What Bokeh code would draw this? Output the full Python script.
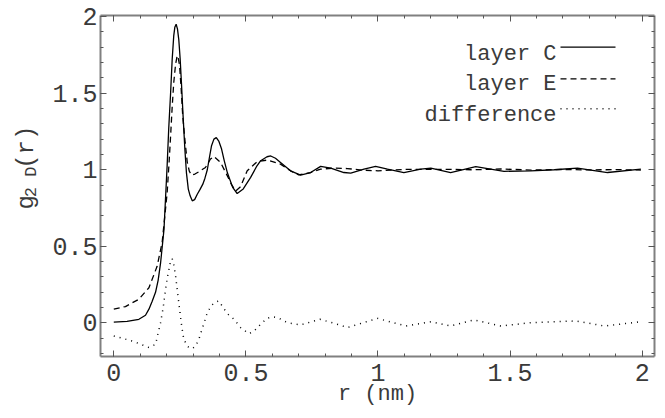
import math
from bokeh.plotting import figure
from bokeh.layouts import row
from bokeh.models import (Range1d, LinearAxis, FixedTicker, Label, Arrow,
                          CustomLabelingPolicy, ColumnDataSource)
from bokeh.core.properties import value
from bokeh.embed import file_html
from bokeh.resources import INLINE

# ---- data ----
r_c = [0, 0.05, 0.095, 0.12, 0.133, 0.145, 0.158, 0.168, 0.177, 0.19, 0.202, 0.208,
       0.215, 0.221, 0.227, 0.231, 0.236, 0.241, 0.246, 0.251, 0.256, 0.262, 0.269,
       0.275, 0.282, 0.289, 0.297, 0.306, 0.316, 0.326, 0.337, 0.345, 0.354, 0.362,
       0.37, 0.379, 0.388, 0.398, 0.408, 0.418, 0.43, 0.45, 0.467, 0.49, 0.518,
       0.54, 0.556, 0.58, 0.594, 0.612, 0.631, 0.669, 0.707, 0.745, 0.783, 0.821,
       0.871, 0.897, 0.947, 0.991, 1.036, 1.098, 1.162, 1.2, 1.275, 1.37, 1.477,
       1.578, 1.667, 1.755, 1.869, 1.995]
g_c = [0.005, 0.01, 0.024, 0.05, 0.09, 0.14, 0.2, 0.28, 0.39, 0.61, 1.03, 1.27,
       1.5, 1.72, 1.876, 1.93, 1.95, 1.92, 1.85, 1.73, 1.57, 1.36, 1.135,
       0.98, 0.874, 0.83, 0.797, 0.805, 0.84, 0.87, 0.906, 0.945, 1.0, 1.08,
       1.157, 1.2, 1.21, 1.185, 1.135, 1.06, 0.98, 0.885, 0.845, 0.875, 0.95,
       1.02, 1.059, 1.085, 1.09, 1.075, 1.048, 0.993, 0.965, 0.982, 1.022, 1.011,
       0.982, 0.978, 1.004, 1.022, 1.004, 0.982, 1.004, 1.011, 0.982, 1.02, 0.99,
       0.993, 1.0, 1.011, 0.982, 1.004]

r_e = [0, 0.044, 0.095, 0.133, 0.164, 0.183, 0.202, 0.209, 0.215, 0.221, 0.227,
       0.234, 0.24, 0.244, 0.249, 0.255, 0.261, 0.27, 0.278, 0.286, 0.294, 0.307,
       0.322, 0.347, 0.366, 0.379, 0.404, 0.43, 0.445, 0.462, 0.48, 0.505, 0.543,
       0.581, 0.631, 0.669, 0.7, 0.745, 0.783, 0.833, 0.884, 0.94, 1.0, 1.05,
       1.105, 1.2, 1.275, 1.364, 1.465, 1.58, 1.7, 1.8, 1.9, 1.995]
g_e = [0.09, 0.107, 0.155, 0.23, 0.37, 0.525, 0.85, 1.04, 1.22, 1.41, 1.57,
       1.69, 1.745, 1.73, 1.68, 1.53, 1.35, 1.18, 1.05, 0.99, 0.965, 0.972,
       0.987, 1.015, 1.07, 1.087, 1.048, 0.96, 0.905, 0.862, 0.89, 0.993, 1.054,
       1.063, 1.037, 0.993, 0.967, 0.982, 1.004, 1.011, 1.008, 0.998, 0.993, 0.998,
       1.002, 1.003, 1.002, 1.0, 1.005, 0.998, 1.002, 0.999, 1.001, 0.998]

r_d = [0, 0.07, 0.133, 0.158, 0.177, 0.187, 0.196, 0.203, 0.21, 0.215, 0.221,
       0.227, 0.234, 0.242, 0.249, 0.257, 0.265, 0.28, 0.297, 0.31, 0.322, 0.338,
       0.354, 0.37, 0.385, 0.398, 0.41, 0.43, 0.455, 0.48, 0.511, 0.53, 0.555,
       0.58, 0.6, 0.62, 0.657, 0.707, 0.78, 0.83, 0.884, 0.998, 1.105, 1.2, 1.275,
       1.364, 1.465, 1.58, 1.75, 1.857, 1.995]
g_d = [-0.085, -0.118, -0.16, -0.14, 0.002, 0.1, 0.22, 0.3, 0.36, 0.405, 0.42,
       0.38, 0.307, 0.19, 0.09, -0.02, -0.107, -0.155, -0.168, -0.15, -0.107, -0.02,
       0.067, 0.115, 0.137, 0.144, 0.111, 0.06, 0.024, -0.03, -0.07, -0.055, -0.01,
       0.03, 0.04, 0.035, 0.002, -0.013, 0.024, 0.0, -0.03, 0.03, -0.02, 0.008, -0.02,
       0.02, -0.02, 0.002, 0.013, -0.02, 0.008]

x_tick_values = [0, 0.5, 1, 1.5, 2]
x_tick_labels = ["0", "0.5", "1", "1.5", "2"]
y_tick_values = [0, 0.5, 1, 1.5, 2]
y_tick_labels = ["0", "0.5", "1", "1.5", "2"]
x_minor = [round(0.1 * i, 2) for i in range(0, 21)]
y_minor = [round(-0.2 + 0.1 * i, 2) for i in range(0, 23)]

legend_names = ["layer C", "layer E", "difference"]
y_label_parts = ["g", "2 D", "(r)"]

FONT = "Liberation Mono"
TXT = "#3a3a3a"
FRAME = "#808080"
TICK = "#555555"

# ---- narrow strip holding the rotated y-axis title ----
LW = 40
lf = figure(width=LW, height=418, output_backend="svg", toolbar_location=None,
            x_range=Range1d(0, LW), y_range=Range1d(418, 0),
            x_axis_location=None, y_axis_location=None,
            min_border=0, min_border_left=0, min_border_right=0,
            min_border_top=0, min_border_bottom=0)
lf.grid.visible = False
lf.outline_line_color = None
ylab_src = ColumnDataSource(dict(x=[25.5, 30.5, 25.5], y=[229, 204, 161.5],
                                 text=y_label_parts,
                                 fs=["24px", "17px", "24px"]))
lf.text(x="x", y="y", text="text", source=ylab_src,
        angle=math.pi / 2, text_font=value(FONT),
        text_font_size="fs", text_color=TXT,
        text_baseline="middle", text_align="center")

# ---- main chart ----
p = figure(width=665 - LW, height=418, output_backend="svg", toolbar_location=None,
           x_range=Range1d(-0.0503, 2.0466), y_range=Range1d(-0.219, 2.007),
           min_border_left=100 - LW, min_border_right=11, min_border_top=15,
           min_border_bottom=62)
p.grid.visible = False
p.outline_line_color = None

no_labels = CustomLabelingPolicy(code="return []")


def style_axis(ax, ticks, minor, labels, show_labels):
    ax.ticker = FixedTicker(ticks=ticks, minor_ticks=minor)
    ax.major_tick_in = 6
    ax.major_tick_out = 0
    ax.minor_tick_in = 3
    ax.minor_tick_out = 0
    ax.major_tick_line_color = TICK
    ax.minor_tick_line_color = TICK
    ax.axis_line_color = FRAME
    ax.axis_line_width = 2
    ax.major_label_overrides = dict(zip(ticks, labels))
    ax.major_label_text_font = FONT
    ax.major_label_text_color = TXT
    if show_labels:
        ax.major_label_text_font_size = "25px"
    else:
        ax.major_label_text_font_size = "1px"
        ax.major_label_policy = no_labels
        ax.major_label_standoff = 0


style_axis(p.xaxis[0], x_tick_values, x_minor, x_tick_labels, True)
style_axis(p.yaxis[0], y_tick_values, y_minor, y_tick_labels, True)
p.xaxis[0].major_label_standoff = 7
p.yaxis[0].major_label_standoff = 3
p.xaxis[0].axis_label = "r (nm)"
p.xaxis[0].axis_label_text_font = FONT
p.xaxis[0].axis_label_text_font_size = "22px"
p.xaxis[0].axis_label_text_font_style = "normal"
p.xaxis[0].axis_label_text_color = TXT
p.xaxis[0].axis_label_standoff = -2

top = LinearAxis()
style_axis(top, x_tick_values, x_minor, x_tick_labels, False)
p.add_layout(top, "above")
right = LinearAxis()
style_axis(right, y_tick_values, y_minor, y_tick_labels, False)
p.add_layout(right, "right")

# curves
p.line(r_c, g_c, line_color="black", line_width=1.3)
p.line(r_e, g_e, line_color="black", line_width=1.3, line_dash="6 4")
p.line(r_d, g_d, line_color="black", line_width=1.5, line_dash="1 5")

# legend (text to the left of the sample line)
leg_text_y = [302.5, 272, 241.5]
leg_line_y = [309.3, 277.7, 247.7]
dashes = ["solid", "6 4", "1 5"]
widths = [1.3, 1.3, 1.5]
for name, ty, ly, d, w in zip(legend_names, leg_text_y, leg_line_y, dashes, widths):
    p.add_layout(Label(x=456, y=ty, x_units="screen", y_units="screen", text=name,
                       text_font=FONT, text_font_size="22px", text_color=TXT,
                       text_align="right", text_baseline="alphabetic"))
    p.add_layout(Arrow(end=None, x_start=460, y_start=ly, x_end=515, y_end=ly,
                       start_units="screen", end_units="screen",
                       line_color="black", line_width=w, line_dash=d))

layout = row(lf, p, spacing=0)
open("out.html", "w").write(file_html(layout, INLINE))
